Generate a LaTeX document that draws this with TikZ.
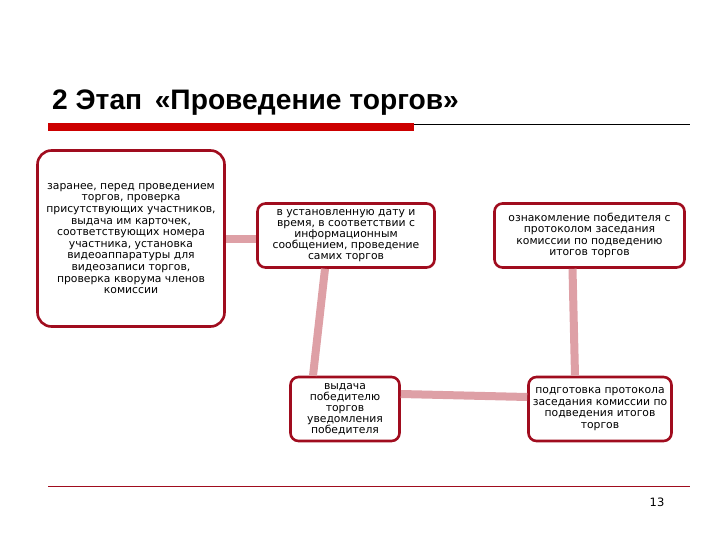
\documentclass[tikz,border=0pt]{standalone}
\usepackage{fontspec}
\usepackage{xcolor}
\usepackage{tikz}
\setmainfont{DejaVu Sans}
\newfontfamily\titlefont{Liberation Sans}

\definecolor{boxred}{RGB}{160,12,30}
\definecolor{barred}{RGB}{204,0,0}
\definecolor{linkpink}{RGB}{222,160,166}

\begin{document}
\begin{tikzpicture}[
      x=1pt, y=-1pt,
      stage/.style={draw=boxred, line width=2.6pt, fill=white, rounded corners=8pt,
                    align=center, inner sep=0pt,
                    font=\fontsize{10.8}{11.6}\selectfont},
      tight/.style={font=\fontsize{10.8}{11.1}\selectfont},
      link/.style={draw=linkpink, line width=8pt},
    ]
    \useasboundingbox (0,0) rectangle (720,540);

    % Title
    \node[anchor=base west, inner sep=0pt, font=\titlefont\bfseries\fontsize{28.2}{32}\selectfont]
      (title) at (52,110) {2 Этап \,«Проведение торгов»};
    \fill[barred] (48,123) rectangle (414,131);
    \draw[black, line width=0.8pt] (414,124) -- (690,124);

    % Preparation
    \node[stage, rounded corners=14pt, minimum width=187pt, minimum height=176pt] (prep) at (131,238.5)
      {заранее, перед проведением\\торгов, проверка\\присутствующих участников,\\выдача им карточек,\\соответствующих номера\\участника, установка\\видеоаппаратуры для\\видеозаписи торгов,\\проверка кворума членов\\комиссии};

    % Auction
    \node[stage, tight, minimum width=177pt, minimum height=64pt] (auction) at (346,235.5)
      {в установленную дату и\\время, в соответствии с\\информационным\\сообщением, проведение\\самих торгов};

    % Review of the protocol
    \node[stage, minimum width=190pt, minimum height=64pt] (review) at (589.5,235.5)
      {ознакомление победителя с\\протоколом заседания\\комиссии по подведению\\итогов торгов};

    % Notice to the winner
    \node[stage, tight, minimum width=109pt, minimum height=64pt] (notice) at (345,409)
      {выдача\\победителю\\торгов\\уведомления\\победителя};

    % Protocol
    \node[stage, minimum width=143pt, minimum height=64pt] (protocol) at (600,409)
      {подготовка протокола\\заседания комиссии по\\подведения итогов\\торгов};

    % Links
    \draw[link] (prep.east) -- (prep.east -| auction.west);
    \draw[link] ([xshift=-21pt]auction.south) -- ([xshift=-32pt]notice.north);
    \draw[link] ([yshift=15pt]notice.east) -- ([yshift=12pt]protocol.west);
    \draw[link] ([xshift=-25pt]protocol.north) -- ([xshift=-17pt]review.south);

    % Footer
    \draw[boxred, line width=1pt] (48,486) -- (690,486);
    \node[font=\fontsize{11.5}{12}\selectfont] (page) at (657,502) {13};

  \end{tikzpicture}
\end{document}
